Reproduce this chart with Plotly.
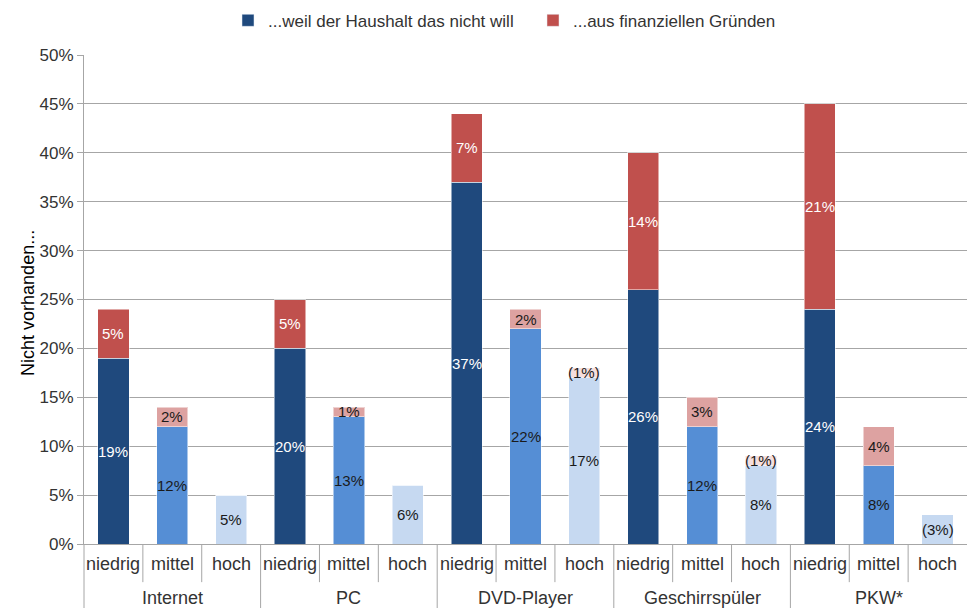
import plotly.graph_objects as go

categories = ["Internet", "PC", "DVD-Player", "Geschirrspüler", "PKW*"]
levels = ["niedrig", "mittel", "hoch"]

# values in percent, order: for each category niedrig, mittel, hoch
will_nicht = [19, 12, 5, 20, 13, 6, 37, 22, 17, 26, 12, 8, 24, 8, 3]
finanziell = [5, 2, 0, 5, 1, 0, 7, 2, 1, 14, 3, 1, 21, 4, 0]
will_labels = ["19%", "12%", "5%", "20%", "13%", "6%", "37%", "22%", "17%",
               "26%", "12%", "8%", "24%", "8%", "(3%)"]
fin_labels = ["5%", "2%", "", "5%", "1%", "", "7%", "2%", "(1%)",
              "14%", "3%", "(1%)", "21%", "4%", ""]

tick_vals = [0, 5, 10, 15, 20, 25, 30, 35, 40, 45, 50]
tick_text = ["0%", "5%", "10%", "15%", "20%", "25%", "30%", "35%", "40%", "45%", "50%"]

blue_cols = {"niedrig": "#1F497D", "mittel": "#558ED5", "hoch": "#C6D9F1"}
red_cols = {"niedrig": "#C0504D", "mittel": "#DDA2A1", "hoch": "#F5DEDD"}
txt_cols = {"niedrig": "white", "mittel": "#1a1a1a", "hoch": "#1a1a1a"}

FONT = "Liberation Sans Narrow, Liberation Sans, sans-serif"

n = len(will_nicht)
xs = list(range(n))
lvl = [levels[i % 3] for i in xs]

fig = go.Figure()
fig.add_trace(go.Bar(x=xs, y=will_nicht, width=0.53,
                     marker=dict(color=[blue_cols[l] for l in lvl],
                                 line=dict(color="rgba(255,255,255,0.5)", width=1)),
                     showlegend=False, hoverinfo="skip"))
fig.add_trace(go.Bar(x=xs, y=finanziell, width=0.53,
                     marker=dict(color=[red_cols[l] for l in lvl],
                                 line=dict(color="rgba(255,255,255,0.5)", width=1)),
                     showlegend=False, hoverinfo="skip"))
fig.add_trace(go.Bar(x=[None], y=[None], name="...weil der Haushalt das nicht will",
                     marker=dict(color=blue_cols["niedrig"])))
fig.add_trace(go.Bar(x=[None], y=[None], name="...aus finanziellen Gründen",
                     marker=dict(color=red_cols["niedrig"])))

annotations = []
for i in xs:
    c = txt_cols[lvl[i]]
    if will_labels[i]:
        annotations.append(dict(x=i, y=will_nicht[i] / 2, xref="x", yref="y",
                                text=will_labels[i], showarrow=False,
                                font=dict(size=15, color=c, family=FONT)))
    if fin_labels[i]:
        annotations.append(dict(x=i, y=will_nicht[i] + finanziell[i] / 2, xref="x", yref="y",
                                text=fin_labels[i], showarrow=False,
                                font=dict(size=15, color=c, family=FONT)))

# axis category labels
for i in xs:
    annotations.append(dict(x=i, y=-0.041, xref="x", yref="paper", text=lvl[i],
                            showarrow=False, yanchor="middle",
                            font=dict(size=18, color="#333333", family=FONT)))
for j, cat in enumerate(categories):
    annotations.append(dict(x=3 * j + 1, y=-0.111, xref="x", yref="paper", text=cat,
                            showarrow=False, yanchor="middle",
                            font=dict(size=18, color="#333333", family=FONT)))

annotations.append(dict(x=-0.077, y=0.493, xref="paper", yref="paper",
                        text="Nicht vorhanden...", textangle=-90, showarrow=False,
                        font=dict(size=18, color="black", family=FONT)))

shapes = []
for i in range(n):
    xp = i / n
    y1 = -0.131 if i % 3 == 0 else -0.078
    shapes.append(dict(type="line", xref="paper", yref="paper", x0=xp, x1=xp,
                       y0=0, y1=y1, line=dict(color="#A6A6A6", width=1)))

fig.update_layout(
    width=967, height=608,
    margin=dict(l=84, r=0, t=55, b=64, autoexpand=False),
    plot_bgcolor="white", paper_bgcolor="white",
    barmode="stack",
    font=dict(family=FONT, size=16, color="#333333"),
    xaxis=dict(range=[-0.5, n - 0.5], showticklabels=False, showgrid=False,
               zeroline=False, showline=True, linecolor="#A6A6A6", ticks=""),
    yaxis=dict(range=[0, 50], tickmode="array", tickvals=tick_vals, ticktext=tick_text,
               showgrid=True, gridcolor="#A6A6A6", gridwidth=1, zeroline=False,
               showline=True, linecolor="#A6A6A6", ticks="outside", ticklen=6,
               tickcolor="#A6A6A6", tickfont=dict(size=17, color="#333333")),
    legend=dict(orientation="h", x=(228 - 84) / 883, xanchor="left", y=1.07, yanchor="middle",
                font=dict(size=17, color="#333333"), traceorder="normal",
                entrywidth=260, entrywidthmode="pixels",
                bgcolor="rgba(0,0,0,0)"),
    annotations=annotations,
    shapes=shapes,
)

fig.write_html("out.html", config={"displayModeBar": False},
               post_script="document.body.style.margin='0';")
